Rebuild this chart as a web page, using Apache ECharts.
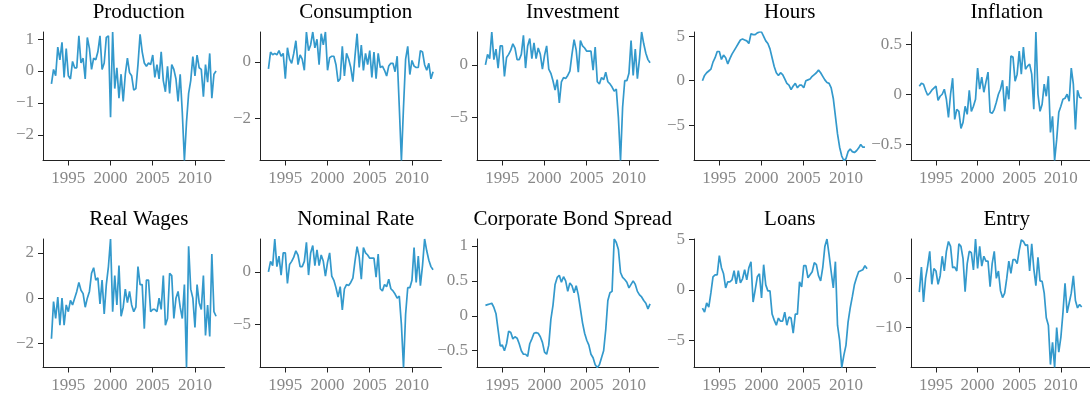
<!DOCTYPE html>
<html>
<head>
<meta charset="UTF-8">
<title>Macro series</title>
<script src="https://cdn.jsdelivr.net/npm/echarts@6/dist/echarts.min.js"></script>
<style>
  html, body { margin: 0; padding: 0; background: #fff; }
  #main { width: 1090px; height: 400px; }
</style>
</head>
<body>
<div id="main"></div>
<script>
// quarterly data, first point is 1993Q1
var firstYear = 1993;
var yearTicks = [1995, 2000, 2005, 2010];

var production = [-0.40, 0.05, -0.15, 0.75, 0.35, 0.90, -0.20, 0.70, -0.15, -0.25,
    0.30, 0.10, 0.10, 1.10, 0.25, 0.40, -0.25, 1.05, 0.70, 0.05,
    0.40, 0.35, 0.60, 1.10, 0.05, 0.25, 1.05, 1.10, -1.45, 1.22,
    -0.55, 0.10, -0.85, -0.10, -0.95, -0.10, 0.40, -0.05, -0.15, -0.60,
    -0.55, 0.20, 1.15, 0.60, 0.25, 0.15, 0.25, 0.20, 0.50, -0.20,
    0.20, -0.25, 0.60, -0.30, -0.65, 0.15, -0.70, 0.20, 0.05, -0.25,
    -0.95, -0.10, -1.30, -2.80, -1.60, -0.70, -0.30, 0.45, -0.15, 0.50,
    0.10, 0.05, -0.80, 0.20, -0.35, 0.55, -0.85, -0.10, 0.00];
var productionTicks = [-2, -1, 0, 1];

var consumption = [-0.25, 0.35, 0.25, 0.30, 0.25, 0.40, 0.20, 0.30, -0.60, 0.50,
    0.10, -0.05, 0.30, 0.75, -0.10, 0.25, 0.10, -0.30, 1.06, 0.40,
    0.60, 1.06, 0.50, 0.80, -0.10, 1.00, 0.60, 1.06, -0.30, 0.15,
    0.20, 0.20, -0.10, -0.70, -0.60, 0.55, -0.50, 0.30, 0.10, -0.20,
    -0.70, 0.20, 1.00, -0.20, 0.60, -0.30, 0.30, -0.10, 0.40, -0.55,
    0.35, -0.60, 0.30, -0.20, -0.15, -0.30, -0.50, -0.15, -0.05, -0.05,
    -0.35, 0.20, -1.60, -3.50, -1.60, 0.10, 0.55, -0.45, 0.05, -0.15,
    -0.20, -0.20, 0.40, 0.35, -0.10, -0.30, -0.05, -0.60, -0.35];
var consumptionTicks = [-2, 0];

var investment = [0.0, 1.0, 0.6, 3.12, 0.5, 1.5, -0.3, 1.8, 1.8, -1.1,
    0.7, 1.0, 1.4, 2.0, 1.6, 0.5, 0.5, 1.0, 2.8, -0.3,
    1.8, 2.5, 0.6, 2.1, 0.6, 1.6, 1.0, -0.4, 0.9, 1.8,
    -0.4, -0.8, -1.5, -2.4, -1.4, -3.6, -1.6, -1.2, -1.3, -1.0,
    -0.6, 1.0, 2.4, 1.4, -0.7, 2.3, 1.8, 1.6, 1.3, 1.3,
    1.3, -0.5, 1.7, -1.6, -1.8, -1.2, -1.4, -0.7, -1.6, -1.8,
    -2.1, -2.5, -2.3, -5.0, -9.07, -4.0, -1.5, -1.5, -0.8, 2.3,
    -1.0, 1.5, -1.3, 0.6, 3.12, 2.0, 1.1, 0.5, 0.2];
var investmentTicks = [-5, 0];

var hours = [0.0, 0.6, 0.9, 1.1, 1.3, 2.1, 2.6, 3.3, 3.3, 2.4,
    2.9, 2.6, 1.9, 2.5, 3.0, 3.4, 3.8, 4.2, 4.6, 4.7,
    4.6, 4.5, 4.2, 5.3, 5.2, 5.2, 5.4, 5.5, 5.5, 5.0,
    4.5, 4.2, 3.6, 2.6, 1.6, 0.9, 0.6, 0.9, 0.7, 0.2,
    -0.3, -0.5, -1.0, -0.6, -0.3, -0.8, -0.5, -0.5, -0.8, 0.0,
    0.1, 0.2, 0.5, 0.7, 0.9, 1.2, 0.9, 0.5, 0.1, -0.2,
    -0.3, -0.8, -2.0, -4.0, -6.0, -7.5, -8.5, -9.0, -8.8, -8.0,
    -7.7, -8.0, -8.1, -7.9, -7.6, -7.2, -7.5, -7.5];
var hoursTicks = [-5, 0, 5];

var inflation = [0.08, 0.11, 0.10, 0.04, -0.01, 0.01, 0.04, 0.06, 0.08, -0.06,
    -0.02, 0.00, 0.05, -0.05, -0.23, 0.00, 0.16, -0.25, -0.15, -0.17,
    -0.34, -0.28, -0.12, -0.20, 0.04, -0.17, -0.12, -0.05, 0.26, 0.05,
    0.17, 0.02, 0.12, 0.22, -0.18, -0.19, -0.15, -0.08, 0.00, 0.05,
    0.14, -0.17, 0.08, -0.05, 0.38, 0.37, 0.13, 0.20, 0.43, 0.20,
    0.47, 0.25, 0.28, 0.30, 0.20, -0.15, 0.62, 0.00, -0.17, -0.10,
    0.10, -0.02, 0.18, -0.38, -0.22, -0.66, -0.45, -0.18, -0.12, -0.05,
    -0.04, 0.00, -0.07, 0.26, 0.10, -0.35, 0.04, -0.03, -0.04];
var inflationTicks = [-0.5, 0, 0.5];

var realWages = [-1.80, -0.15, -0.90, 0.05, -1.20, 0.00, -1.20, -0.30, -0.60, -0.10,
    -0.30, 0.00, 0.30, 0.70, 0.35, 0.20, -0.40, 0.00, 0.30, 1.10,
    1.35, 0.80, 0.90, -0.25, 0.80, -0.70, 0.60, 1.40, 2.62, -0.60,
    1.00, -0.30, 1.45, -0.80, -0.40, 0.40, -0.20, 0.30, -0.30, -0.60,
    -0.40, 1.40, 0.60, 0.60, -1.35, 0.80, 0.80, -0.60, -0.50, -0.50,
    -0.60, 0.00, -0.50, 1.00, -1.20, -0.90, 1.10, 1.00, -0.90, 0.00,
    0.30, -0.40, -0.90, 0.60, -3.07, 2.30, 0.40, 0.00, -1.30, 0.60,
    -0.20, -0.50, 1.00, -1.65, -0.30, -1.70, 1.95, -0.60, -0.80];
var realWagesTicks = [-2, 0, 2];

var nominalRate = [0.0, 1.0, 0.6, 3.12, 0.5, 1.5, -0.3, 1.8, 1.8, -1.1,
    0.7, 1.0, 1.4, 2.0, 1.6, 0.5, 0.5, 1.0, 2.8, -0.3,
    1.8, 2.5, 0.6, 2.1, 0.6, 1.6, 1.0, -0.4, 0.9, 1.8,
    -0.4, -0.8, -1.5, -2.4, -1.4, -3.6, -1.6, -1.2, -1.3, -1.0,
    -0.6, 1.0, 2.4, 1.4, -0.7, 2.3, 1.8, 1.6, 1.3, 1.3,
    1.3, -0.5, 1.7, -1.6, -1.8, -1.2, -1.4, -0.7, -1.6, -1.8,
    -2.1, -2.5, -2.3, -5.0, -9.07, -4.0, -1.5, -1.5, -0.8, 2.3,
    -1.0, 1.5, -1.3, 0.6, 3.12, 2.0, 1.1, 0.5, 0.2];
var nominalRateTicks = [-5, 0];

var bondSpread = [0.15, 0.16, 0.17, 0.18, 0.12, 0.03, -0.20, -0.43, -0.42, -0.50,
    -0.40, -0.22, -0.24, -0.33, -0.30, -0.32, -0.40, -0.50, -0.55, -0.55,
    -0.58, -0.40, -0.33, -0.25, -0.24, -0.25, -0.30, -0.38, -0.52, -0.55,
    -0.42, -0.05, 0.15, 0.45, 0.55, 0.58, 0.48, 0.56, 0.50, 0.35,
    0.47, 0.43, 0.33, 0.43, 0.30, 0.10, -0.10, -0.25, -0.35, -0.42,
    -0.55, -0.60, -0.70, -0.74, -0.70, -0.60, -0.50, -0.20, 0.22, 0.33,
    0.35, 1.10, 1.05, 0.95, 0.62, 0.55, 0.52, 0.48, 0.40, 0.45,
    0.50, 0.45, 0.35, 0.30, 0.27, 0.22, 0.18, 0.10, 0.17];
var bondSpreadTicks = [-0.5, 0, 0.5, 1];

var loans = [-1.8, -2.2, -1.3, -1.7, -0.3, 1.3, 1.5, 1.5, 3.4, 2.2,
    1.6, 0.2, 0.8, 0.8, 1.0, 1.9, 0.6, 1.9, 0.7, 1.1,
    2.0, 1.0, 2.2, 2.8, -1.2, 0.0, 1.3, 1.6, -0.8, 2.5,
    0.5, -0.1, -0.1, -2.4, -3.0, -3.5, -2.8, -3.1, -3.1, -2.2,
    -3.5, -2.7, -2.8, -4.3, -2.4, -2.4, 0.8, 0.3, 2.4, 2.4,
    1.2, 1.5, 1.8, 2.7, 2.5, 1.4, 0.9, 2.2, 4.3, 5.05,
    3.5, 1.8, 0.2, 2.8, -3.5, -5.0, -7.7, -6.5, -5.5, -3.2,
    -1.8, -0.7, 0.5, 1.2, 1.8, 1.9, 2.0, 2.4, 2.1];
var loansTicks = [-5, 0, 5];

var entry = [-2.8, 2.3, -4.8, 0.0, 2.5, 5.5, -1.2, 2.0, 1.5, -1.2,
    0.5, 4.5, 1.5, 5.5, 7.5, 6.5, 2.2, 2.3, 1.5, 7.0,
    6.5, 4.0, -2.7, 3.0, 5.5, 5.2, 1.7, 8.0, 2.0, 6.5,
    2.5, 4.5, 3.5, 3.5, -1.7, 3.0, 5.5, 0.0, 1.5, -2.5,
    -3.9, -3.0, 0.0, 3.5, 1.0, 3.8, 3.8, 3.0, 5.7, 7.8,
    7.5, 6.7, 6.8, 1.5, 7.0, 2.0, -1.5, 4.3, -0.5, -0.6,
    -3.0, -8.0, -9.5, -17.5, -13.0, -18.1, -10.0, -15.0, -12.0, -7.0,
    -1.0, -7.0, -5.0, -3.0, 0.5, -4.5, -6.0, -5.3, -5.8];
var entryTicks = [-10, 0];

var panels = [
    { name: 'Production', values: production, ticks: productionTicks },
    { name: 'Consumption', values: consumption, ticks: consumptionTicks },
    { name: 'Investment', values: investment, ticks: investmentTicks },
    { name: 'Hours', values: hours, ticks: hoursTicks },
    { name: 'Inflation', values: inflation, ticks: inflationTicks },
    { name: 'Real Wages', values: realWages, ticks: realWagesTicks },
    { name: 'Nominal Rate', values: nominalRate, ticks: nominalRateTicks },
    { name: 'Corporate Bond Spread', values: bondSpread, ticks: bondSpreadTicks },
    { name: 'Loans', values: loans, ticks: loansTicks },
    { name: 'Entry', values: entry, ticks: entryTicks }
];

var lineColor = '#3399cc';
var axisColor = '#222';
var labelColor = '#888';
var serif = '"Liberation Serif", "DejaVu Serif", serif';

function minus(v) {
    return String(v).replace('-', '\u2212');
}

var grids = [], xAxes = [], yAxes = [], series = [], titles = [];
var gridW = 181.5, gridH = 128.5;

panels.forEach(function (p, k) {
    var col = k % 5, row = Math.floor(k / 5);
    var left = 43 + col * 217;
    var top = row === 0 ? 32 : 239;
    grids.push({ left: left, top: top, width: gridW, height: gridH });
    titles.push({
        text: p.name,
        left: left + gridW / 2,
        top: row === 0 ? -3 : 204,
        textAlign: 'center',
        textStyle: { fontFamily: serif, fontSize: 21, fontWeight: 'normal', color: '#000' }
    });
    xAxes.push({
        type: 'value', gridIndex: k, min: 1992, max: 2013.5,
        splitLine: { show: false },
        axisLine: { onZero: false, lineStyle: { color: axisColor, width: 1 } },
        axisTick: { customValues: yearTicks, length: 5, lineStyle: { color: axisColor } },
        axisLabel: { customValues: yearTicks, margin: 10, color: labelColor, fontFamily: serif, fontSize: 17,
            formatter: function (v) { return String(v); } }
    });
    yAxes.push({
        type: 'value', gridIndex: k, min: 'dataMin', max: 'dataMax',
        splitLine: { show: false },
        axisLine: { show: true, onZero: false, lineStyle: { color: axisColor, width: 1 } },
        axisTick: { show: true, customValues: p.ticks, length: 5, lineStyle: { color: axisColor } },
        axisLabel: { customValues: p.ticks, margin: 9, color: labelColor, fontFamily: serif, fontSize: 17,
            formatter: minus }
    });
    series.push({
        type: 'line', xAxisIndex: k, yAxisIndex: k,
        showSymbol: false, symbol: 'none',
        lineStyle: { color: lineColor, width: 1.7 },
        data: p.values.map(function (v, i) { return [firstYear + i / 4, v]; })
    });
});

var chart = echarts.init(document.getElementById('main'));
chart.setOption({
    animation: false,
    backgroundColor: '#fff',
    title: titles,
    grid: grids,
    xAxis: xAxes,
    yAxis: yAxes,
    series: series
});
</script>
</body>
</html>
